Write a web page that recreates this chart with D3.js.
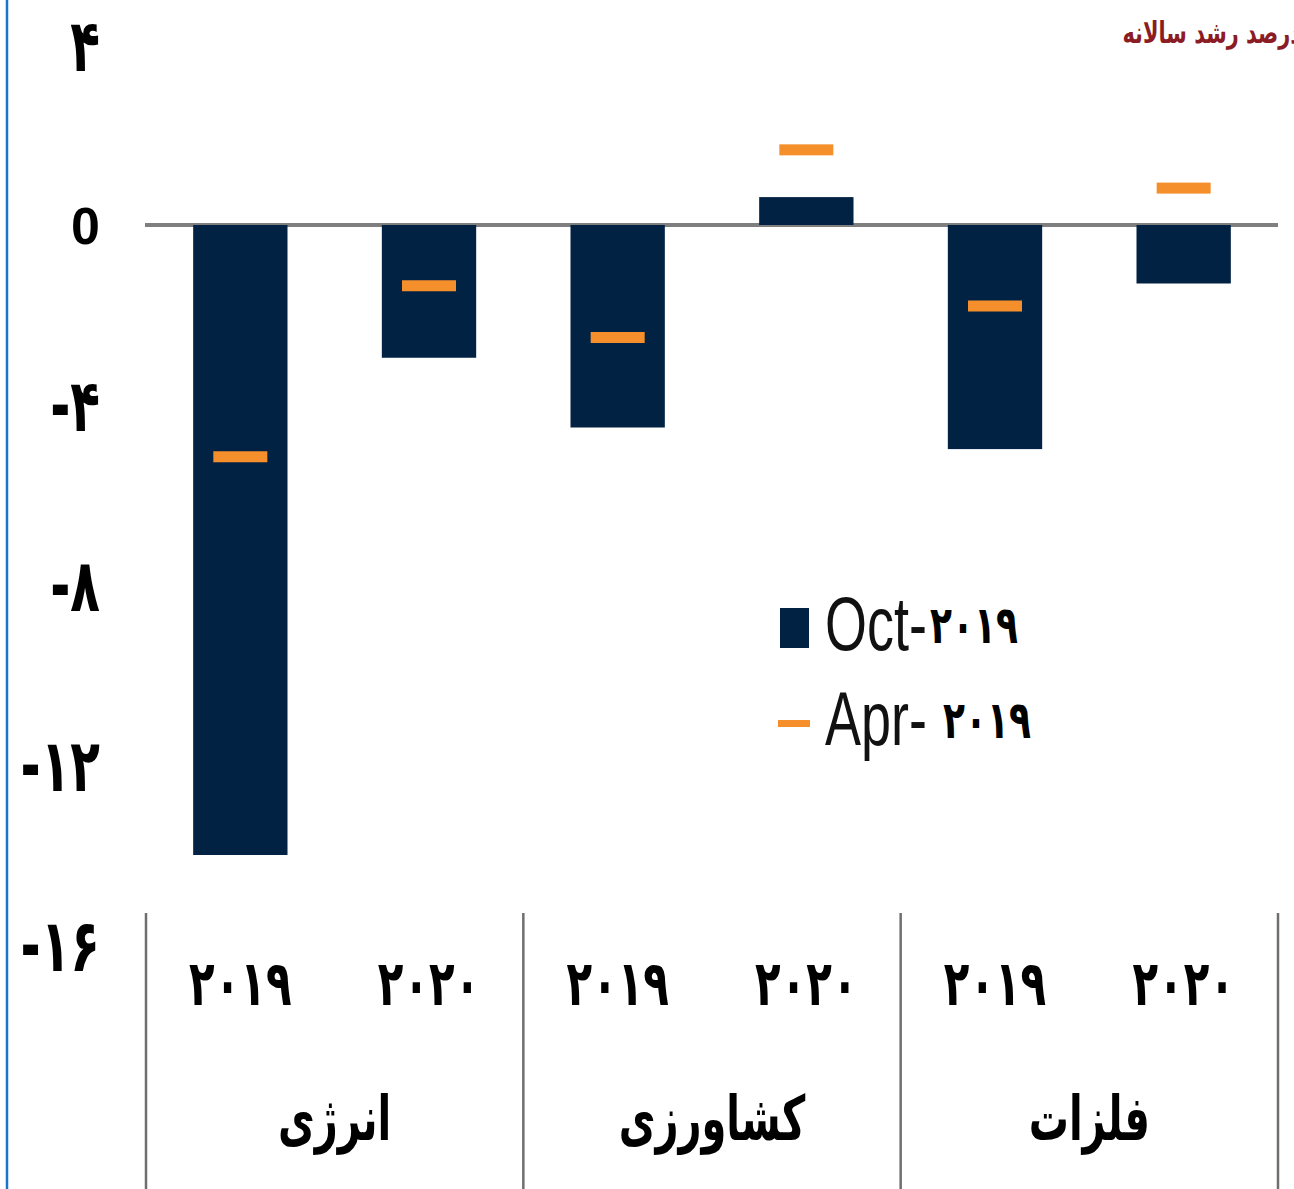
<!DOCTYPE html>
<html>
<head>
<meta charset="utf-8">
<script src="https://cdn.jsdelivr.net/npm/d3@7"></script>
<style>
  html, body { margin: 0; padding: 0; background: #fff; overflow: hidden; }
  svg { display: block; }
</style>
</head>
<body>
<svg id="chart" width="1294" height="1189"></svg>
<script>
// ---- data ----
const categories = ["انرژی", "کشاورزی", "فلزات"];
const years = ["۲۰۱۹", "۲۰۲۰"];
const octValues = [-14.0, -2.95, -4.5, 0.62, -4.98, -1.3];   // Oct-2019 projection (bars)
const aprValues = [-5.15, -1.35, -2.5, 1.67, -1.8, 0.82];    // Apr-2019 projection (markers)
const yTicks = [4, 0, -4, -8, -12, -16];
const yTickLabels = ["۴", "0", "-۴", "-۸", "-۱۲", "-۱۶"];
const legendNames = ["Oct-", "Apr- "];
const legendYears = ["۲۰۱۹", "۲۰۱۹"];
const titleText = "درصد رشد سالانه";

// ---- setup ----
const svg = d3.select("#chart");
const W = 1294, H = 1189;
const navy = "#022244", orange = "#f58f2c";
const persianFont = "'DejaVu Sans', 'Noto Sans', sans-serif";

const y = d3.scaleLinear().domain([-16, 4]).range([945, 45]);
const xOuter = d3.scaleBand().domain(categories).range([146, 1278]).padding(0);
const xInner = d3.scaleBand().domain(years).range([0, xOuter.bandwidth()])
  .paddingInner(0.5).paddingOuter(0.25);

const rows = [];
categories.forEach((c, ci) => years.forEach((yr, yi) => {
  const i = ci * years.length + yi;
  rows.push({cat: c, year: yr, oct: octValues[i], apr: aprValues[i]});
}));
const cx = d => xOuter(d.cat) + xInner(d.year) + xInner.bandwidth() / 2;

// left blue border
svg.append("line").attr("x1", 7).attr("x2", 7).attr("y1", 0).attr("y2", H)
  .attr("stroke", "#1a75c9").attr("stroke-width", 2.5);

// title (clipped at the right edge, as in the reference)
svg.append("text").text(titleText)
  .attr("direction", "rtl").attr("text-anchor", "start")
  .attr("font-family", persianFont).attr("font-weight", "bold")
  .attr("font-size", 22).attr("fill", "#8b1c24")
  .attr("transform", "translate(1301,43) scale(0.95,1.35)");

// y axis labels
const yAxis = d3.axisLeft(y).tickValues(yTicks)
  .tickFormat((d, i) => yTickLabels[i]).tickSize(0).tickPadding(0);
const gy = svg.append("g").attr("transform", "translate(100,0)").call(yAxis);
gy.select(".domain").remove();
gy.selectAll("text")
  .attr("font-family", d => d === 0 ? "'Liberation Sans', Arial, sans-serif" : persianFont)
  .attr("font-weight", "bold")
  .attr("font-size", d => d === 0 ? 52 : 54)
  .attr("fill", "#000")
  .attr("direction", "ltr")
  .attr("dy", "0.35em")
  .attr("transform", d => d === 0 ? null : "scale(0.9,1.35)");

// zero line
svg.append("line")
  .attr("x1", 145).attr("x2", 1278).attr("y1", y(0)).attr("y2", y(0))
  .attr("stroke", "#7f7f7f").attr("stroke-width", 4);

// bars
svg.append("g").selectAll("rect").data(rows).join("rect")
  .attr("x", d => xOuter(d.cat) + xInner(d.year))
  .attr("width", xInner.bandwidth())
  .attr("y", d => y(Math.max(0, d.oct)))
  .attr("height", d => Math.abs(y(d.oct) - y(0)))
  .attr("fill", navy);

// april markers
const mW = 54, mH = 11;
svg.append("g").selectAll("rect").data(rows).join("rect")
  .attr("x", d => cx(d) - mW / 2)
  .attr("y", d => y(d.apr) - mH / 2)
  .attr("width", mW).attr("height", mH)
  .attr("fill", orange);

// category axis: dividers
const dividers = categories.map(c => xOuter(c)).concat([xOuter.range()[1]]);
svg.append("g").selectAll("line").data(dividers).join("line")
  .attr("x1", d => d).attr("x2", d => d)
  .attr("y1", 913).attr("y2", H)
  .attr("stroke", "#6f6f6f").attr("stroke-width", 2.5);

// year labels
svg.append("g").selectAll("text").data(rows).join("text")
  .text(d => d.year)
  .attr("text-anchor", "middle")
  .attr("font-family", persianFont).attr("font-weight", "bold")
  .attr("font-size", 42).attr("fill", "#000")
  .attr("transform", d => `translate(${cx(d)},1005) scale(1,1.5)`);

// category labels
svg.append("g").selectAll("text").data(categories).join("text")
  .text(d => d)
  .attr("text-anchor", "middle").attr("direction", "rtl")
  .attr("font-family", persianFont).attr("font-weight", "bold")
  .attr("font-size", 40).attr("fill", "#000")
  .attr("transform", d => `translate(${xOuter(d) + xOuter.bandwidth() / 2},1140) scale(1,1.55)`);

// legend
const lg = svg.append("g");
lg.append("rect").attr("x", 780).attr("y", 608).attr("width", 29).attr("height", 40).attr("fill", navy);
lg.append("rect").attr("x", 778).attr("y", 720).attr("width", 32).attr("height", 7).attr("fill", orange);
const legendY = [650, 745];
legendNames.forEach((nm, i) => {
  lg.append("text").text(nm)
    .attr("font-family", "'Liberation Sans', Arial, sans-serif")
    .attr("font-size", 76).attr("fill", "#111")
    .attr("transform", `translate(825,${legendY[i]}) scale(0.71,1)`);
  lg.append("text").text(legendYears[i])
    .attr("font-family", persianFont).attr("font-weight", "bold")
    .attr("font-size", 36).attr("fill", "#000").attr("direction", "ltr")
    .attr("transform", `translate(${i === 0 ? 930 : 943},${legendY[i] - 7}) scale(1,1.45)`);
});
</script>
</body>
</html>
